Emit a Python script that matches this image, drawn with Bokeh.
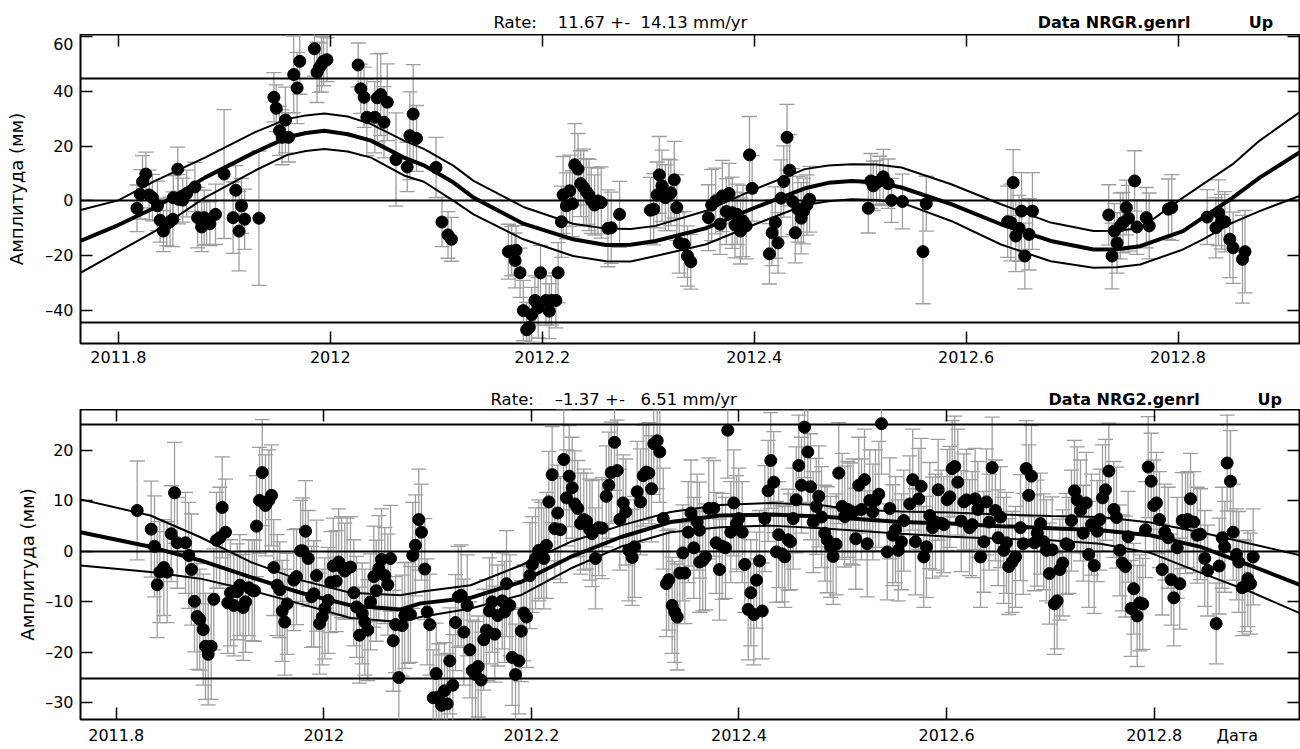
from bokeh.plotting import figure
from bokeh.layouts import column
from bokeh.models import Range1d, LinearAxis, FixedTicker, ColumnDataSource
from bokeh.core.properties import value
from bokeh.embed import file_html
from bokeh.resources import INLINE

FONT = "DejaVu Sans"
GREY = "#9e9e9e"

x_ticks = [2011.8, 2012.0, 2012.2, 2012.4, 2012.6, 2012.8]
x_tick_labels = ["2011.8", "2012", "2012.2", "2012.4", "2012.6", "2012.8"]

# ---------------- top panel: NRGR ----------------
top_t = [
    2011.8176, 2011.8207, 2011.8228, 2011.8260, 2011.8291, 2011.8322, 2011.8369, 2011.8394, 2011.8425, 2011.8457,
    2011.8488, 2011.8514, 2011.8519, 2011.8561, 2011.8566, 2011.8608, 2011.8645, 2011.8723, 2011.8748, 2011.8786,
    2011.8810, 2011.8833, 2011.8864, 2011.8917, 2011.8998, 2011.9083, 2011.9108, 2011.9139, 2011.9162, 2011.9192,
    2011.9327, 2011.9468, 2011.9490, 2011.9521, 2011.9546, 2011.9577, 2011.9606, 2011.9655, 2011.9687, 2011.9712,
    2011.9850, 2011.9875, 2011.9897, 2011.9918, 2011.9937, 2011.9969, 2012.0263, 2012.0288, 2012.0319, 2012.0345,
    2012.0420, 2012.0444, 2012.0476, 2012.0507, 2012.0538, 2012.0620, 2012.0726, 2012.0751, 2012.0782, 2012.0814,
    2012.0998, 2012.1054, 2012.1111, 2012.1143, 2012.1681, 2012.1712, 2012.1753, 2012.1744, 2012.1791, 2012.1822,
    2012.1853, 2012.1878, 2012.1900, 2012.1931, 2012.1962, 2012.1984, 2012.2035, 2012.2066, 2012.2087, 2012.2129,
    2012.2150, 2012.2181, 2012.2197, 2012.2228, 2012.2260, 2012.2285, 2012.2307, 2012.2338, 2012.2363, 2012.2391,
    2012.2416, 2012.2441, 2012.2463, 2012.2495, 2012.2526, 2012.2557, 2012.2620, 2012.2651, 2012.2730, 2012.3021,
    2012.3052, 2012.3083, 2012.3105, 2012.3130, 2012.3162, 2012.3192, 2012.3214, 2012.3246, 2012.3270, 2012.3293,
    2012.3340, 2012.3371, 2012.3402, 2012.3568, 2012.3599, 2012.3637, 2012.3678, 2012.3700, 2012.3737, 2012.3762,
    2012.3793, 2012.3819, 2012.3840, 2012.3871, 2012.3894, 2012.3925, 2012.3956, 2012.3981, 2012.4144, 2012.4169,
    2012.4200, 2012.4225, 2012.4254, 2012.4279, 2012.4310, 2012.4335, 2012.4363, 2012.4388, 2012.4413, 2012.4444,
    2012.4466, 2012.4498, 2012.4523, 2012.5077, 2012.5101, 2012.5124, 2012.5155, 2012.5186, 2012.5218, 2012.5265,
    2012.5296, 2012.5399, 2012.5593, 2012.5624, 2012.6392, 2012.6423, 2012.6444, 2012.6469, 2012.6500, 2012.6523,
    2012.6554, 2012.6594, 2012.6626, 2012.7346, 2012.7377, 2012.7399, 2012.7424, 2012.7455, 2012.7481, 2012.7512,
    2012.7533, 2012.7590, 2012.7612, 2012.7700, 2012.7728, 2012.7909, 2012.7941, 2012.8275, 2012.8357, 2012.8382,
    2012.8410, 2012.8441, 2012.8488, 2012.8519, 2012.8608, 2012.8632,
]
top_v = [
    -2.7, 2.4, 7.0, 9.8, 2.2, 1.2, -1.8, -7.0, -11.0, -8.3,
    -7.6, -6.7, 1.2, 11.6, 0.6, 0.3, 2.7, 5.1, -6.1, -9.5,
    -6.1, -7.9, -8.3, -4.9, 9.8, -6.1, 3.9, -11.0, -1.8, -6.7,
    -6.3, 37.8, 33.8, 25.6, 23.2, 29.5, 23.2, 46.1, 41.2, 50.9,
    55.5, 46.9, 48.6, 49.8, 51.0, 51.5, 49.6, 40.9, 37.8, 30.5,
    30.5, 37.6, 38.8, 28.7, 36.0, 15.1, 12.4, 23.8, 31.7, 22.8,
    12.2, -7.7, -12.4, -14.0, -18.5, -18.3, -18.0, -21.7, -26.2, -40.0,
    -47.0, -46.1, -41.5, -36.3, -39.0, -26.2, -36.3, -40.2, -36.3, -36.3,
    -26.2, -7.6, 2.2, -1.8, 3.7, -1.0, 13.2, 11.6, 6.3, 4.9,
    3.4, 2.2, 0.2, -1.5, 0.0, -0.6, -10.0, -9.8, -4.9, -3.4,
    -3.0, 2.2, 9.5, 5.5, 1.2, 2.2, 3.0, 7.7, -2.4, -15.3,
    -15.9, -20.1, -22.2, -6.1, -1.5, 0.0, -8.5, 1.8, -3.9, 2.7,
    -4.3, -8.8, -4.9, -11.0, -7.3, -9.1, 16.8, 4.6, -19.3, -11.6,
    -7.9, -15.3, 1.0, 7.1, 23.2, 11.2, -0.2, -11.6, -3.0, -6.3,
    -3.7, -1.5, 0.6, -2.7, 7.3, 5.5, 6.7, 7.3, 8.8, 6.3,
    0.2, -0.2, -18.5, -1.0, -7.6, -7.9, 6.7, -12.8, -10.0, -3.7,
    -20.1, -12.2, -3.7, -5.1, -20.1, -11.0, -15.3, -9.1, -7.9, -2.4,
    -6.3, 7.3, -9.5, -6.1, -9.1, -3.0, -2.4, -5.9, -9.8, -4.3,
    -7.6, -7.6, -14.0, -17.1, -21.3, -18.5,
]
top_e = [
    8.5, 9, 9.5, 8, 9, 8.5, 9, 8, 7.5, 8,
    9, 10, 8, 8, 9, 8, 8.5, 9, 11, 9,
    10, 8, 8, 11, 23.5, 13, 9, 14.5, 10, 11,
    24.5, 9, 8.5, 9, 10, 12, 9, 14, 13, 12,
    10, 11, 9, 10, 9, 8, 8, 9, 11, 14,
    13, 16, 15, 13, 14, 17, 9, 16, 18, 12,
    11, 9, 8.5, 8, 10, 9, 9, 10, 9, 11,
    10, 9, 10, 9, 11, 10, 9, 10, 9, 10,
    11, 13, 14, 12, 13, 12, 15, 13, 12, 14,
    12, 13, 12, 11, 12, 13, 14, 13, 12, 12,
    13, 12, 14, 13, 12, 13, 12, 14, 12, 11,
    12, 11, 10, 12, 13, 12, 11, 13, 12, 11,
    13, 12, 11, 12, 13, 12, 14, 12, 11, 12,
    13, 11, 14, 13, 12, 13, 12, 11, 12, 13,
    12, 11, 12, 9, 10, 9, 8, 9, 10, 9,
    8, 10, 19, 10, 13, 14, 12, 13, 12, 14,
    12, 13, 14, 11, 12, 10, 11, 12, 11, 10,
    12, 11, 10, 11, 12, 11, 12, 10, 11, 12,
    10, 11, 14, 13, 16, 15,
]
top_curve_t = [2011.7643, 2011.8000, 2011.8347, 2011.8817, 2011.9286, 2011.9596, 2011.9770, 2011.9944,
               2012.0165, 2012.0385, 2012.0695, 2012.0883, 2012.1164, 2012.1352, 2012.1822, 2012.2291,
               2012.2601, 2012.2835, 2012.3070, 2012.3540, 2012.4009, 2012.4479, 2012.4700, 2012.4920,
               2012.5150, 2012.5390, 2012.5859, 2012.6329, 2012.6798, 2012.7202, 2012.7420, 2012.7643,
               2012.8047, 2012.8235, 2012.8516, 2012.8770, 2012.9146]
top_curve_mid = [-14.6, -8.8, -2.4, 8.5, 17.7, 23.2, 24.8, 25.6, 24.3, 22.0, 15.8, 13.0, 6.7, 1.2, -8.3,
                 -14.0, -16.1, -16.0, -14.6, -10.0, -2.4, 4.6, 6.6, 7.3, 6.8, 4.9, -1.2, -8.5, -14.6,
                 -17.7, -17.6, -16.5, -11.0, -6.1, 1.2, 8.5, 17.7]
top_curve_up = [-3.3, 0.2, 7.3, 15.8, 25.0, 29.9, 31.2, 31.9, 30.8, 28.0, 22.0, 19.0, 12.8, 7.3, -2.2,
                -8.3, -10.1, -10.2, -9.1, -3.7, 4.3, 11.6, 12.9, 13.4, 13.3, 12.2, 6.1, -1.2, -7.9,
                -11.0, -10.9, -10.0, 1.2, 6.1, 13.4, 22.0, 32.3]
top_curve_lo = [-26.2, -18.5, -11.0, 1.2, 11.0, 16.8, 18.2, 18.9, 18.0, 15.8, 9.3, 7.0, 0.0, -4.9, -14.0,
                -20.1, -22.0, -22.1, -20.1, -15.9, -8.5, -1.5, -0.1, 0.6, 0.3, -0.6, -7.3, -15.9, -22.0,
                -24.4, -24.2, -23.2, -17.7, -14.0, -7.9, -3.7, 1.8]
top_limits = [-44.5, 0.0, 44.5]
top_yticks = [-40, -20, 0, 20, 40, 60]
top_ytick_labels = ["\u201340", "\u201320", "0", "20", "40", "60"]

# ---------------- bottom panel: NRG2 ----------------
bot_t = [
    2011.8202, 2011.8337, 2011.8369, 2011.8395, 2011.8420, 2011.8459, 2011.8491, 2011.8530, 2011.8562, 2011.8588,
    2011.8668, 2011.8699, 2011.8725, 2011.8754, 2011.8780, 2011.8805, 2011.8838, 2011.8860, 2011.8886, 2011.8915,
    2011.8940, 2011.8966, 2011.8998, 2011.9021, 2011.9053, 2011.9075, 2011.9101, 2011.9133, 2011.9166, 2011.9191,
    2011.9223, 2011.9246, 2011.9277, 2011.9310, 2011.9332, 2011.9352, 2011.9381, 2011.9407, 2011.9438, 2011.9470,
    2011.9496, 2011.9518, 2011.9551, 2011.9576, 2011.9599, 2011.9624, 2011.9647,
    2011.9711, 2011.9737, 2011.9776, 2011.9798, 2011.9824, 2011.9850, 2011.9882, 2011.9904, 2011.9930, 2011.9959,
    2011.9985, 2012.0010, 2012.0042, 2012.0067, 2012.0091, 2012.0119, 2012.0144, 2012.0171, 2012.0202, 2012.0225,
    2012.0257, 2012.0289, 2012.0315, 2012.0344, 2012.0370, 2012.0395, 2012.0424, 2012.0450, 2012.0482, 2012.0505,
    2012.0530, 2012.0556, 2012.0588, 2012.0617, 2012.0643, 2012.0669, 2012.0691, 2012.0723, 2012.0755, 2012.0780,
    2012.0813, 2012.0835, 2012.0857, 2012.0883, 2012.0915, 2012.0941, 2012.0973, 2012.0996, 2012.1021, 2012.1054,
    2012.1083, 2012.1108, 2012.1134, 2012.1163, 2012.1189, 2012.1214, 2012.1243, 2012.1269, 2012.1295, 2012.1324,
    2012.1349, 2012.1382, 2012.1407, 2012.1430, 2012.1461, 2012.1487, 2012.1516, 2012.1541, 2012.1567, 2012.1596,
    2012.1622, 2012.1647,
    2012.1676, 2012.1719, 2012.1741, 2012.1760, 2012.1792, 2012.1815, 2012.1847, 2012.1879, 2012.1902, 2012.1927,
    2012.1953, 2012.1985, 2012.2008, 2012.2040, 2012.2071, 2012.2097, 2012.2120, 2012.2145, 2012.2168, 2012.2200,
    2012.2225, 2012.2254, 2012.2280, 2012.2312, 2012.2338, 2012.2364, 2012.2393, 2012.2418, 2012.2447, 2012.2473,
    2012.2505, 2012.2532, 2012.2562, 2012.2585, 2012.2617, 2012.2649, 2012.2682, 2012.2721, 2012.2746, 2012.2769,
    2012.2801, 2012.2827, 2012.2852, 2012.2884, 2012.2910, 2012.2939, 2012.2971, 2012.2993, 2012.3019, 2012.3051,
    2012.3077, 2012.3106, 2012.3131, 2012.3157, 2012.3179, 2012.3212, 2012.3237, 2012.3270, 2012.3301, 2012.3324,
    2012.3356, 2012.3381, 2012.3405, 2012.3430, 2012.3459, 2012.3478, 2012.3511, 2012.3537, 2012.3565, 2012.3597,
    2012.3622,
    2012.3619, 2012.3651, 2012.3677, 2012.3709, 2012.3757, 2012.3780, 2012.3812, 2012.3838, 2012.3870, 2012.3892,
    2012.3921, 2012.3950, 2012.3976, 2012.3998, 2012.4031, 2012.4056, 2012.4089, 2012.4114, 2012.4143, 2012.4169,
    2012.4198, 2012.4224, 2012.4249, 2012.4281, 2012.4306, 2012.4335, 2012.4361, 2012.4383, 2012.4416, 2012.4441,
    2012.4474, 2012.4496, 2012.4522, 2012.4551, 2012.4576, 2012.4602, 2012.4631, 2012.4663, 2012.4689, 2012.4715,
    2012.4744, 2012.4769, 2012.4795, 2012.4827, 2012.4850, 2012.4882, 2012.4907, 2012.4936, 2012.4961, 2012.4994,
    2012.5019, 2012.5048, 2012.5074, 2012.5100, 2012.5125, 2012.5154, 2012.5180, 2012.5209, 2012.5235, 2012.5260,
    2012.5289, 2012.5315, 2012.5347, 2012.5373, 2012.5428, 2012.5453, 2012.5482, 2012.5508, 2012.5534, 2012.5565,
    2012.5588,
    2012.5645, 2012.5674, 2012.5700, 2012.5732, 2012.5755, 2012.5780, 2012.5806, 2012.5838, 2012.5864, 2012.5893,
    2012.5919, 2012.5948, 2012.5973, 2012.6006, 2012.6031, 2012.6054, 2012.6079, 2012.6108, 2012.6141, 2012.6166,
    2012.6192, 2012.6221, 2012.6247, 2012.6275, 2012.6301, 2012.6327, 2012.6359, 2012.6384, 2012.6410, 2012.6439,
    2012.6471, 2012.6497, 2012.6519, 2012.6551, 2012.6577, 2012.6599, 2012.6632, 2012.6664, 2012.6712, 2012.6738,
    2012.6767, 2012.6792, 2012.6818, 2012.6847, 2012.6873, 2012.6905, 2012.6936, 2012.6962, 2012.6991, 2012.7017,
    2012.7039, 2012.7065, 2012.7091, 2012.7119, 2012.7152, 2012.7177, 2012.7203, 2012.7232, 2012.7258, 2012.7290,
    2012.7316, 2012.7345, 2012.7370, 2012.7396, 2012.7422, 2012.7451, 2012.7476, 2012.7502, 2012.7531, 2012.7563,
    2012.7611, 2012.7637, 2012.7669, 2012.7692, 2012.7723, 2012.7749, 2012.7778, 2012.7803, 2012.7836, 2012.7861,
    2012.7890, 2012.7916, 2012.7942, 2012.7971, 2012.7996, 2012.8022, 2012.8051, 2012.8077, 2012.8102, 2012.8135,
    2012.8164, 2012.8189, 2012.8222, 2012.8247, 2012.8270, 2012.8302, 2012.8323, 2012.8350, 2012.8381, 2012.8414,
    2012.8446, 2012.8487, 2012.8516, 2012.8597, 2012.8626, 2012.8655, 2012.8680, 2012.8703, 2012.8735, 2012.8761,
    2012.8793, 2012.8815, 2012.8848, 2012.8873, 2012.8902, 2012.8928, 2012.8954,
]
bot_v = [
    8.1, 4.4, 1.0, -6.6, -4.1, -3.2, -4.1, 3.5, 11.6, 1.7,
    1.7, -0.8, -3.6, -9.9, -12.9, -13.5, -15.5, -18.8, -20.4, -18.8,
    -9.5, 2.2, 2.7, 8.7, 3.8, -10.2, -8.2, -10.7, -8.0, -6.7,
    -11.1, -10.0, -7.2, -7.7, -7.8, 5.0, 10.1, 15.6, 9.1, 10.1,
    11.1, -3.2, -6.7, -7.6, -11.8, -14.0, -10.4,
    -5.7, -5.0, 0.1, 0.1, 4.0, -1.4, -9.0, -8.4, -4.8, -14.3,
    -13.0, -11.3, -9.7, -6.1, -2.9, -5.9, -2.1, -3.1, -3.9, -3.4,
    -3.1, -8.2, -11.0, -16.6, -12.3, -14.0, -15.6, -10.0, -5.0, -7.8,
    -3.4, -1.6, -4.8, -6.6, -1.4, -17.7, -14.5, -25.0, -14.7, -12.7,
    -12.2, -12.5, -0.8, 1.2, 6.3, 3.8, -3.5, -12.0, -14.5, -29.0,
    -24.2, -28.8, -30.5, -27.6, -30.2, -21.7, -26.5, -14.1, -9.0, -8.7,
    -16.0, -10.7, -19.5, -23.6, -24.4, -22.8, -25.5, -17.5, -15.6, -11.8,
    -10.0, -16.4,
    -12.7, -9.8, -12.0, -6.4, -10.7, -21.0, -24.4, -21.7, -15.8, -12.2,
    -13.0, -4.8, -2.6, -1.4, 0.2, 0.2, -1.4, 1.2, 9.8, 15.2,
    4.5, 7.6, 4.3, 18.2, 10.6, 14.9, 12.6, 9.4, 8.5, 5.5,
    6.3, 6.0, 4.3, 3.5, -1.4, 4.7, 4.6, 10.9, 13.1, 15.6,
    21.6, 16.0, 6.3, 9.6, 7.8, 0.2, -1.2, 0.9, 11.8, 9.8,
    15.0, 15.7, 15.5, 12.4, 21.3, 21.9, 19.7, 6.5, -6.4, -5.6,
    -10.7, -12.0, -13.0, -4.3, -0.3, -4.3, 3.8, 7.6, 0.7, 5.8,
    -2.1,
    4.2, -1.8, -1.1, 8.5, 8.5, 1.7, -3.6, 1.0, 0.7, 24.0,
    3.8, 9.6, 5.5, 6.5, 3.8, -2.6, -11.5, -8.2, -12.5, -5.7,
    -1.9, -11.8, 6.5, 12.0, 18.0, 13.7, -0.1, 3.3, -0.5, -1.1,
    2.3, 1.9, 6.5, 10.2, 17.0, 13.1, 24.6, 19.7, 12.8, 5.8,
    8.9, 10.9, 6.8, 3.6, 2.3, 0.9, -1.0, 1.4, 15.5, 8.9,
    6.9, 8.3, 7.5, 7.8, 2.5, 13.1, 8.3, 14.2, 1.5, 10.1,
    7.8, 10.1, 11.3, 25.3, -0.1, 8.5, 3.2, 4.3, 0.2, 1.9,
    6.1,
    9.4, 14.2, 1.9, 10.4, 12.9, -1.1, 0.9, 7.1, 4.7, 5.8,
    12.2, 5.6, 5.3, 10.2, 10.8, 16.4, 16.8, 13.7, 6.0, 9.8,
    10.2, 4.7, 5.3, 10.4, 8.3, -1.1, 1.9, 9.8, 5.8, 16.6,
    8.1, 2.7, 6.8, 0.2, 1.7, -3.0, -2.1, -1.1, 4.7, 1.5,
    16.4, 11.1, 14.9, 1.7, 3.6, 5.5, 1.9, 0.2, -4.4, 0.3,
    -10.4, -9.8, -3.6, -2.3, 1.5, 1.2, 6.1, 12.0, 10.2, 8.1,
    3.6, 9.6, -0.6, 5.3, -2.8, 4.0, 6.3, 10.6, 12.2, 15.9,
    8.3, 6.7, 0.2, -2.3, -3.0, 2.9, -11.3, -7.4, -12.8, -10.2,
    -10.4, 4.3, 16.7, 13.9, 9.1, 9.6, 6.3, -3.6, 3.8, 2.7,
    -5.6, -9.2, 0.7, -6.4, 6.1, 5.6, 6.3, 10.4, 5.8, 3.2,
    3.4, -1.4, -3.8, -14.3, -2.9, 2.7, 0.9, 17.5, 13.9, 3.8,
    -0.6, -2.1, -7.2, -6.9, -5.4, -6.4, -1.1,
]
bot_e = [
    9.8, 9.5, 10, 10.5, 10, 9.5, 10, 9.5, 10, 9,
    10, 10.5, 11, 10, 10.5, 10, 11, 10.5, 10, 10.5,
    10, 9.5, 10, 10, 10.5, 10, 10.5, 10, 9.5, 10,
    10.5, 10, 9.5, 10, 10, 10, 10.5, 10.5, 10, 10,
    10, 9.5, 10, 9.5, 10, 10.5, 10,
    10, 9.5, 10, 10.5, 10, 9.5, 10, 10.5, 11, 10,
    9.5, 10, 10.5, 10, 9.5, 10, 10.5, 10, 9.5, 10,
    10, 10.5, 10, 9.5, 10, 10.5, 10, 9.5, 10, 10,
    10.5, 10, 9.5, 10, 10.5, 10, 9.5, 10, 10, 10.5,
    10, 9.5, 10.5, 10, 10, 9.5, 10, 10.5, 10, 9.5,
    10, 10.5, 10, 9.5, 10, 10.5, 10, 9.5, 10, 10,
    10.5, 10, 9.5, 10, 10.5, 10, 9.5, 10, 10, 10.5,
    10, 9.5,
    10, 9.5, 10, 10.5, 10, 9.5, 10, 10.5, 10, 9.5,
    10, 10.5, 9.5, 10, 10, 9.5, 10, 10.5, 10, 9.5,
    10, 9.5, 10.5, 10, 9.5, 10, 10, 10.5, 9.5, 10,
    10, 9.5, 10, 10.5, 10, 9.5, 10, 10, 10.5, 10,
    9.5, 10, 10, 9.5, 10.5, 10, 9.5, 10, 10, 10.5,
    10, 9.5, 10, 10.5, 10, 9.5, 10, 10, 10.5, 10,
    9.5, 10, 10.5, 10, 9.5, 10, 10, 10.5, 10, 9.5,
    10,
    9.5, 10, 10.5, 10, 9.5, 10, 10, 10.5, 10, 9.5,
    10, 10.5, 9.5, 10, 10, 9.5, 10, 10.5, 10, 9.5,
    10, 9.5, 10.5, 10, 9.5, 10, 10, 10.5, 9.5, 10,
    10, 9.5, 10, 10.5, 10, 9.5, 10, 10, 10.5, 10,
    9.5, 10, 10, 9.5, 10.5, 10, 9.5, 10, 10, 10.5,
    10, 9.5, 10, 10.5, 10, 9.5, 10, 10, 10.5, 10,
    9.5, 10, 10.5, 10, 9.5, 10, 10, 10.5, 10, 9.5,
    10,
    9.5, 10, 10.5, 10, 9.5, 10, 10, 10.5, 10, 9.5,
    10, 10.5, 9.5, 10, 10, 9.5, 10, 10.5, 10, 9.5,
    10, 9.5, 10.5, 10, 9.5, 10, 10, 10.5, 9.5, 10,
    10, 9.5, 10, 10.5, 10, 9.5, 10, 10, 10.5, 10,
    9.5, 10, 10, 9.5, 10.5, 10, 9.5, 10, 10, 10.5,
    10, 9.5, 10, 10.5, 10, 9.5, 10, 10, 10.5, 10,
    9.5, 10, 10.5, 10, 9.5, 10, 10, 10.5, 10, 9.5,
    9.5, 10, 9, 9.5, 10, 9, 9.5, 9, 10, 9.5,
    9, 9.5, 10, 9.5, 9, 10, 9.5, 9, 9.5, 10,
    9, 9.5, 10, 9, 9.5, 10, 9.5, 9, 10, 9.5,
    9, 9.5, 9, 8, 9.5, 10, 9, 9.5, 10, 9.5,
    9, 10, 9.5, 9, 9.5, 10, 9.5,
]
bot_curve_t = [2011.7656, 2011.8330, 2011.8812, 2011.9294, 2011.9776, 2012.0257, 2012.0739, 2012.0932,
               2012.1414, 2012.1895, 2012.2377, 2012.2858, 2012.3340, 2012.3822, 2012.4304, 2012.4785,
               2012.5074, 2012.5556, 2012.6037, 2012.6519, 2012.7000, 2012.7482, 2012.7964, 2012.8446,
               2012.8928, 2012.9410]
bot_curve_mid = [3.8, 0.9, -1.8, -5.1, -8.2, -10.7, -11.5, -10.3, -9.2, -6.1, -1.1, 2.8, 5.8, 7.1, 7.3, 6.9,
                 6.5, 5.8, 5.5, 5.0, 4.6, 4.2, 3.2, 0.9, -2.8, -6.7]
bot_curve_up = [10.3, 7.1, 2.8, -2.1, -5.7, -8.2, -8.7, -8.0, -6.7, -2.8, 1.9, 5.1, 7.8, 9.2, 9.6, 9.2,
                8.3, 7.9, 7.7, 7.3, 7.0, 6.8, 5.7, 3.8, 1.5, -0.8]
bot_curve_lo = [-2.8, -4.1, -5.4, -7.7, -10.4, -13.2, -14.0, -13.0, -11.3, -8.7, -3.4, 0.9, 3.8, 4.8, 5.1, 4.6,
                4.2, 3.5, 2.9, 2.5, 2.2, 1.5, -0.3, -4.2, -8.0, -12.3]
bot_limits = [-25.2, 0.0, 25.2]
bot_yticks = [-30, -20, -10, 0, 10, 20]
bot_ytick_labels = ["\u201330", "\u201320", "\u201310", "0", "10", "20"]

NB = "\u00a0"
top_header = ["Rate:" + NB * 4 + "11.67 +-" + NB * 2 + "14.13 mm/yr", "Data NRGR.genrl", "Up"]
bot_header = ["Rate:" + NB * 4 + "\u20131.37 +-" + NB * 3 + "6.51 mm/yr", "Data NRG2.genrl", "Up"]
y_label = "Амплитуда (мм)"
x_label = "Дата"
x_label_pos = 2012.88

W = 1300


def style_axis(ax, standoff):
    ax.major_tick_in = 12
    ax.major_tick_out = 0
    ax.minor_tick_line_color = None
    ax.axis_line_color = None
    ax.major_tick_line_color = "black"
    ax.major_tick_line_width = 1.5
    ax.major_label_text_font = FONT
    ax.major_label_text_font_size = "16px"
    ax.major_label_text_color = "black"
    ax.major_label_standoff = standoff


def hide_labels(ax, ticks):
    ax.major_label_overrides = {tk: "" for tk in ticks}
    ax.major_label_text_color = None
    ax.major_label_text_font_size = "1px"
    ax.major_label_standoff = 0


def make_panel(t, v, e, ct, cm, cu, cl, limits, yticks, ylabels, xr, yr,
               height, mb_left, mb_bottom, x_standoff, ylab_standoff, extra_label=None):
    n = min(len(t), len(v), len(e))
    t, v, e = t[:n], v[:n], e[:n]
    src = ColumnDataSource(dict(t=t, v=v,
                                lo=[a - b for a, b in zip(v, e)],
                                hi=[a + b for a, b in zip(v, e)]))
    p = figure(width=W, height=height, x_range=xr, y_range=yr,
               output_backend="svg", toolbar_location=None,
               min_border_left=mb_left, min_border_right=0,
               min_border_top=0, min_border_bottom=mb_bottom)
    p.grid.visible = False
    p.outline_line_color = "black"
    p.outline_line_width = 2
    p.background_fill_color = "white"

    top_ax = LinearAxis()
    right_ax = LinearAxis()
    p.add_layout(top_ax, "above")
    p.add_layout(right_ax, "right")

    bottom_ax = p.below[0]
    left_ax = p.left[0]
    for ax in [bottom_ax, top_ax]:
        style_axis(ax, x_standoff)
    for ax in [left_ax, right_ax]:
        style_axis(ax, 7)

    top_ax.ticker = FixedTicker(ticks=x_ticks)
    hide_labels(top_ax, x_ticks)
    right_ax.ticker = FixedTicker(ticks=yticks)
    hide_labels(right_ax, yticks)

    left_ax.ticker = FixedTicker(ticks=yticks)
    left_ax.major_label_overrides = {tk: lb for tk, lb in zip(yticks, ylabels)}
    left_ax.axis_label = y_label
    left_ax.axis_label_text_font = FONT
    left_ax.axis_label_text_font_size = "18px"
    left_ax.axis_label_text_font_style = "normal"
    left_ax.axis_label_text_color = "black"
    left_ax.axis_label_standoff = ylab_standoff

    xover = {tk: lb for tk, lb in zip(x_ticks, x_tick_labels)}
    if extra_label is None:
        bottom_ax.ticker = FixedTicker(ticks=x_ticks)
    else:
        # labels (incl. the axis title) on major ticks, tick marks drawn as minor ticks
        pos, txt = extra_label
        bottom_ax.ticker = FixedTicker(ticks=x_ticks + [pos], minor_ticks=x_ticks)
        xover[pos] = txt
        bottom_ax.major_tick_in = 0
        bottom_ax.major_tick_line_color = None
        bottom_ax.minor_tick_in = 12
        bottom_ax.minor_tick_out = 0
        bottom_ax.minor_tick_line_color = "black"
        bottom_ax.minor_tick_line_width = 1.5
    bottom_ax.major_label_overrides = xover

    # error bars
    p.segment(x0="t", y0="lo", x1="t", y1="hi", source=src, line_color=GREY, line_width=1.3)
    p.scatter(x="t", y="hi", source=src, marker="dash", size=15, line_color=GREY, line_width=1.3)
    p.scatter(x="t", y="lo", source=src, marker="dash", size=15, line_color=GREY, line_width=1.3)
    # reference lines
    p.hspan(y=limits, line_color="black", line_width=2)
    # model curve and its bounds
    p.line(ct, cu, line_color="black", line_width=2)
    p.line(ct, cl, line_color="black", line_width=2)
    p.line(ct, cm, line_color="black", line_width=4)
    # data points
    p.scatter(x="t", y="v", source=src, size=12, fill_color="black", line_color="black")
    return p


def make_header(xr, height, mb_left, xs, texts, ypos):
    h = figure(width=W, height=height, x_range=xr, y_range=Range1d(0, 1),
               output_backend="svg", toolbar_location=None,
               x_axis_location=None, y_axis_location=None,
               min_border_left=mb_left, min_border_right=1, min_border_top=0, min_border_bottom=0)
    h.outline_line_color = None
    h.xgrid.grid_line_color = None
    h.ygrid.grid_line_color = None
    styles = ["normal", "bold", "bold"]
    sizes = ["16.5px", "16px", "16px"]
    for x, txt, st, sz in zip(xs, texts, styles, sizes):
        h.text(x=[x], y=[ypos], text=[txt], text_font=value(FONT), text_font_size=sz,
               text_font_style=st, text_color="black", text_align="left", text_baseline="middle")
    return h


xr1 = Range1d(2011.7643, 2012.9146)
yr1 = Range1d(-52.0, 60.7)
xr2 = Range1d(2011.7656, 2012.9400)
yr2 = Range1d(-33.3, 28.1)

h1 = make_header(xr1, 34, 75, [2012.154, 2012.6676, 2012.8667], top_header, 0.353)
p1 = make_panel(top_t, top_v, top_e, top_curve_t, top_curve_mid, top_curve_up, top_curve_lo,
                top_limits, top_yticks, top_ytick_labels, xr1, yr1,
                337, 75, 28, 7, 15)
h2 = make_header(xr2, 38, 80, [2012.1606, 2012.6982, 2012.8995], bot_header, 0.263)
p2 = make_panel(bot_t, bot_v, bot_e, bot_curve_t, bot_curve_mid, bot_curve_up, bot_curve_lo,
                bot_limits, bot_yticks, bot_ytick_labels, xr2, yr2,
                338, 80, 27, 6, 4, extra_label=(x_label_pos, x_label))

layout = column(h1, p1, h2, p2, spacing=0)
open("out.html", "w").write(file_html(layout, INLINE))
